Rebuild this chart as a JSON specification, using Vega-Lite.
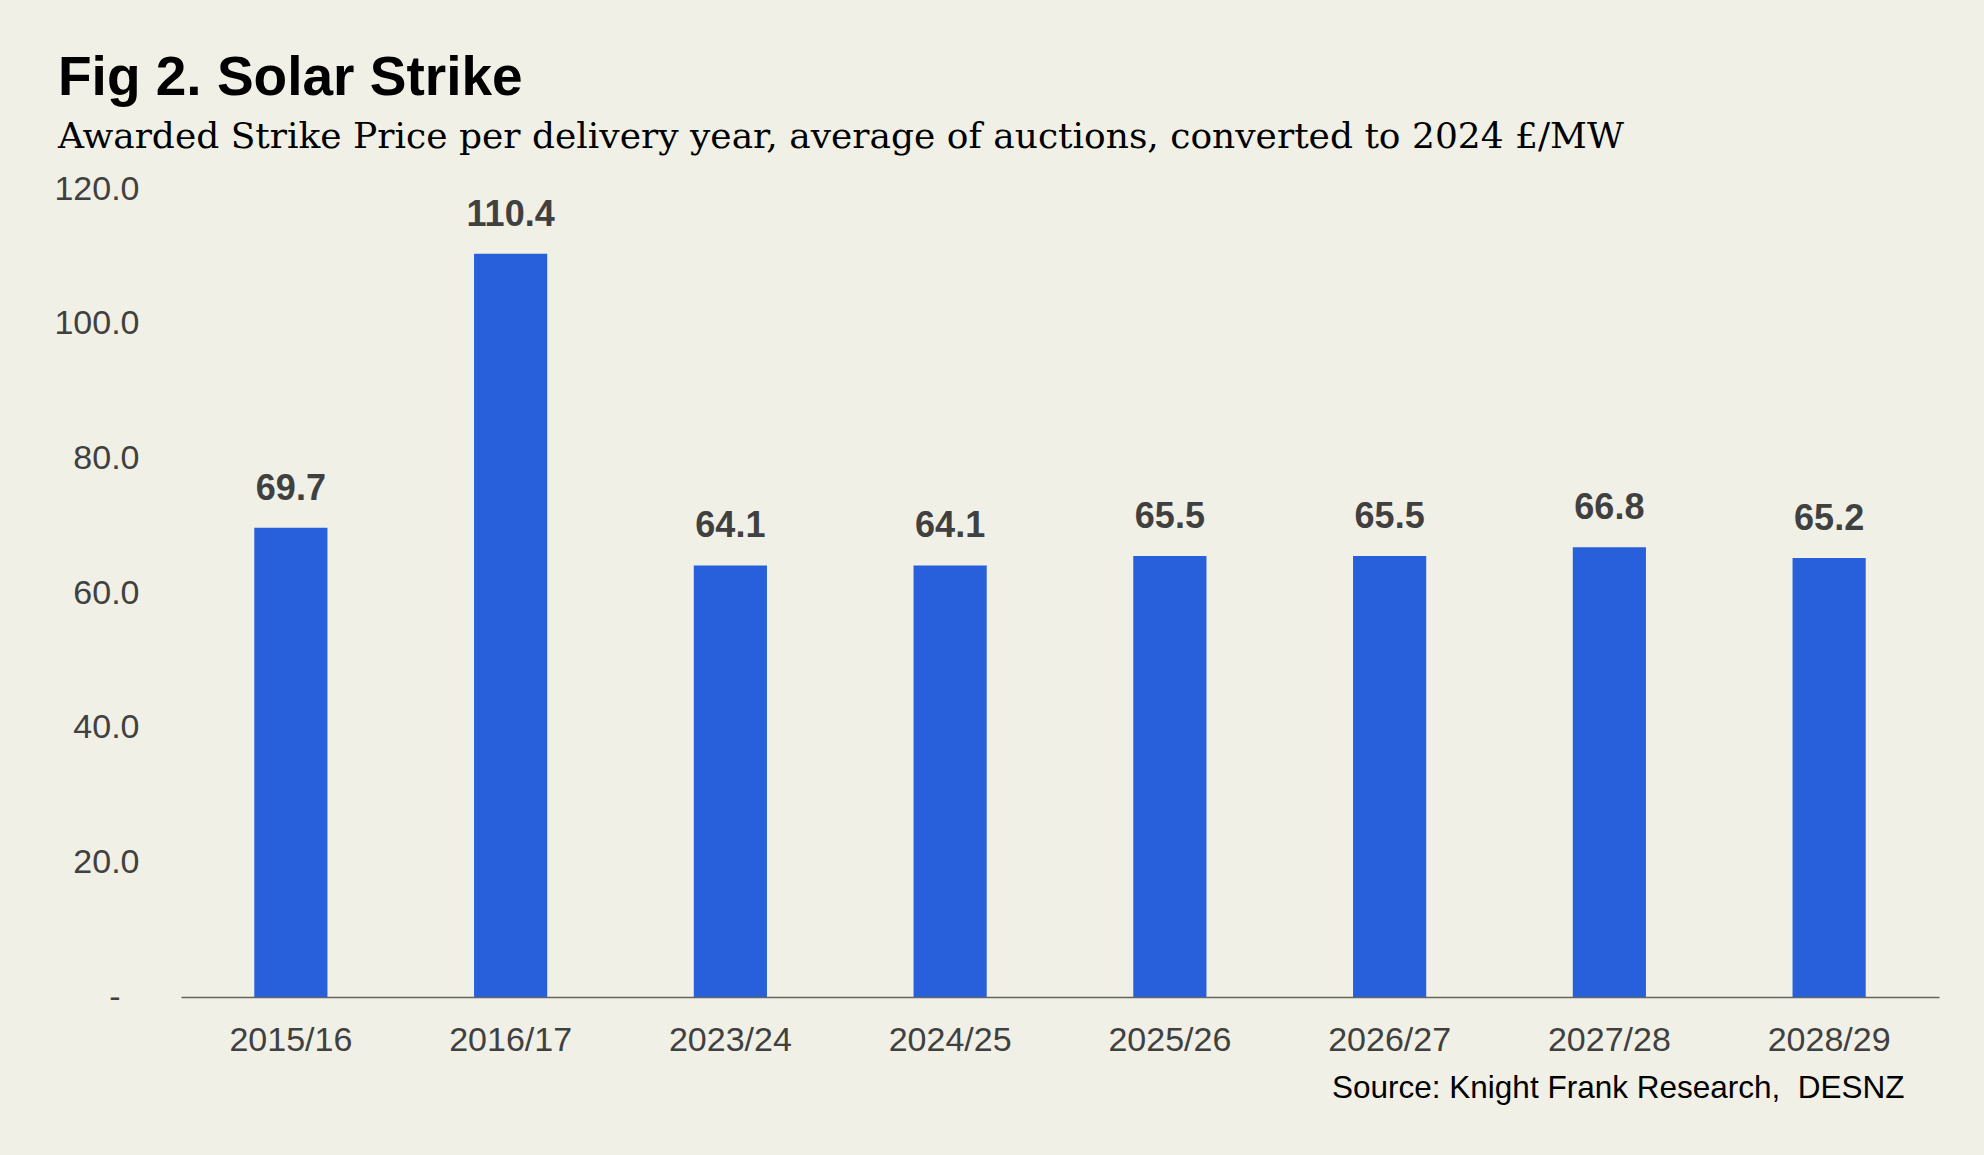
{
  "$schema": "https://vega.github.io/schema/vega-lite/v6.json",
  "width": 1758,
  "height": 808,
  "autosize": "none",
  "padding": {"left": 181, "top": 189, "right": 45, "bottom": 158},
  "background": "#F0F0E6",
  "config": {"view": {"stroke": null}, "font": "Liberation Sans"},
  "title": {
    "text": "Fig 2. Solar Strike",
    "subtitle": "Awarded Strike Price per delivery year, average of auctions, converted to 2024 £/MW",
    "anchor": "start",
    "frame": "group",
    "dx": -123,
    "offset": 16,
    "font": "Liberation Sans",
    "fontSize": 55,
    "fontWeight": "bold",
    "color": "#000000",
    "subtitleFont": "DejaVu Serif",
    "subtitleFontSize": 36,
    "subtitleColor": "#000000",
    "subtitlePadding": 13
  },
  "data": {
    "values": [
      {"year": "2015/16", "price": 69.7},
      {"year": "2016/17", "price": 110.4},
      {"year": "2023/24", "price": 64.1},
      {"year": "2024/25", "price": 64.1},
      {"year": "2025/26", "price": 65.5},
      {"year": "2026/27", "price": 65.5},
      {"year": "2027/28", "price": 66.8},
      {"year": "2028/29", "price": 65.2}
    ]
  },
  "encoding": {
    "x": {
      "field": "year",
      "type": "nominal",
      "sort": null,
      "scale": {"paddingInner": 0.667, "paddingOuter": 0.3335},
      "axis": {
        "title": "Source: Knight Frank Research,\u00a0\u00a0DESNZ",
        "titleX": 1723,
        "titleY": 100,
        "titleAlign": "right",
        "titleBaseline": "alphabetic",
        "titleFont": "Liberation Sans",
        "titleFontSize": 31.5,
        "titleFontWeight": "normal",
        "titleColor": "#000000",
        "labelAngle": 0,
        "labelFontSize": 34,
        "labelColor": "#404040",
        "labelPadding": 26,
        "ticks": false,
        "tickSize": 0,
        "domainColor": "#66665E",
        "domainWidth": 1.3
      }
    },
    "y": {
      "field": "price",
      "type": "quantitative",
      "scale": {"domain": [0, 120], "nice": false},
      "axis": {
        "title": null,
        "values": [0, 20, 40, 60, 80, 100, 120],
        "labelExpr": "datum.value == 0 ? '-\u00a0\u00a0\u200b' : format(datum.value, '.1f')",
        "labelFontSize": 34,
        "labelColor": "#404040",
        "labelPadding": 42,
        "ticks": false,
        "tickSize": 0,
        "domain": false,
        "grid": false
      }
    }
  },
  "layer": [
    {"mark": {"type": "bar", "color": "#2760DA"}},
    {
      "mark": {
        "type": "text",
        "dy": -28,
        "baseline": "alphabetic",
        "fontSize": 36,
        "fontWeight": "bold",
        "color": "#404040"
      },
      "encoding": {"text": {"field": "price", "type": "quantitative", "format": ".1f"}}
    }
  ]
}
